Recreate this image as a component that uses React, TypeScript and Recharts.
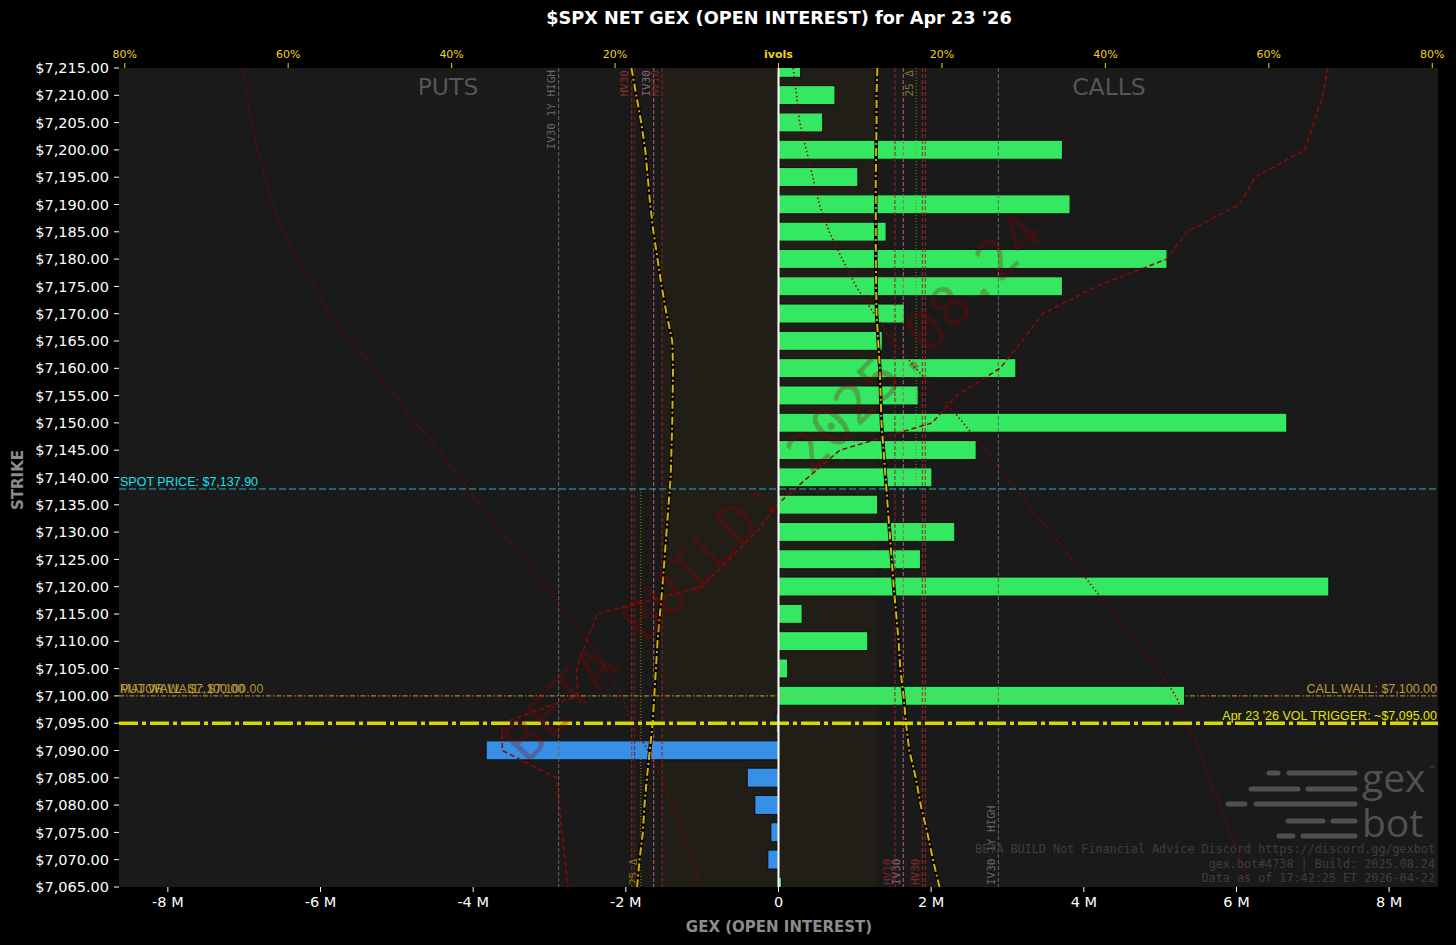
import React from 'react';
import { ComposedChart, Bar, Line, XAxis, YAxis, ReferenceLine, ReferenceArea, Cell } from 'recharts';

// ---------- data ----------
const strikes = [7215, 7210, 7205, 7200, 7195, 7190, 7185, 7180, 7175, 7170, 7165, 7160, 7155, 7150, 7145, 7140, 7135, 7130, 7125, 7120, 7115, 7110, 7105, 7100, 7095, 7090, 7085, 7080, 7075, 7070, 7065];
// net GEX in millions
const netGexM = [0.29, 0.74, 0.58, 3.72, 1.04, 3.82, 1.41, 5.09, 3.72, 1.65, 1.36, 3.11, 1.83, 6.66, 2.59, 2.01, 1.30, 2.31, 1.86, 7.21, 0.31, 1.17, 0.12, 5.32, -0.03, -3.83, -0.41, -0.31, -0.10, -0.14, 0.04];
// implied vols (%), puts plotted as negative values on the ivols axis
const callIvNear = [12.1, 12.0, 12.0, 11.95, 11.9, 11.9, 11.9, 11.9, 11.95, 12.0, 12.2, 12.4, 12.5, 12.6, 12.85, 13.1, 13.35, 13.6, 13.85, 14.1, 14.4, 14.7, 14.9, 15.3, 15.6, 16.0, 16.8, 17.4, 18.2, 18.9, 19.7];
const putIvNear = [-18.0, -17.4, -16.8, -16.3, -16.0, -15.7, -15.3, -14.8, -14.3, -13.7, -13.0, -12.9, -12.95, -13.0, -13.1, -13.2, -13.45, -13.7, -13.95, -14.2, -14.5, -14.8, -15.0, -15.2, -15.4, -15.75, -16.1, -16.4, -16.6, -17.0, -17.3];
const callIvFar = [1.8, 2.2, 2.6, 3.4, 4.2, 5.0, 6.2, 7.8, 9.5, 11.7, 14.0, 16.8, 19.8, 22.6, 25.3, 28.0, 30.6, 33.3, 35.9, 38.4, 41.1, 43.7, 46.4, 48.6, 50.1, 51.5, 52.6, 54.1, 55.3, 56.5, 57.9];
const putIvFar = [-65.5, -65.0, -64.5, -63.8, -62.9, -61.9, -60.6, -58.9, -56.8, -54.9, -52.3, -49.6, -47.0, -44.4, -41.6, -39.0, -36.5, -33.8, -31.2, -28.5, -25.8, -23.3, -21.1, -19.1, -17.9, -16.0, -14.4, -13.0, -11.9, -10.6, -9.4];
const skewIv = [67.2, 66.6, 65.5, 64.4, 58.3, 56.4, 50.0, 47.5, 38.9, 32.3, 29.8, 27.1, 21.8, 18.8, 7.5, 3.6, -0.2, -2.7, -6.0, -9.4, -22.2, -23.5, -24.7, -24.6, -33.8, -33.8, -27.2, -26.8, -26.5, -26.1, -25.8];

const gexTicks = [-8, -6, -4, -2, 0, 2, 4, 6, 8];
const ivTicks = [-80, -60, -40, -20, 0, 20, 40, 60, 80];

const SPOT = 7137.9;
const WALL = 7100;
const VOL_TRIGGER = 7095;
const IV30_1Y_HIGH = 26.9;
const HV30_A = 17.6;
const HV30_B = 17.95;
const IV30 = 15.27;
const HV10 = 14.25;
const DELTA25 = 16.85;
const SHADE_LO = -14.3;
const SHADE_HI = 12.0;

const data = strikes.map((s, i) => ({
  strike: s,
  gex: netGexM[i],
  callNear: callIvNear[i],
  putNear: putIvNear[i],
  callFar: callIvFar[i],
  putFar: putIvFar[i],
  skew: skewIv[i],
}));

const SANS = 'DejaVu Sans, sans-serif';
const MONO = 'DejaVu Sans Mono, monospace';
const LBL = 'Liberation Sans, Arial, sans-serif';

const fmtStrike = (v: number) => '$' + v.toLocaleString('en-US', { minimumFractionDigits: 2, maximumFractionDigits: 2 });
const fmtGex = (v: number) => (v === 0 ? '0' : `${v} M`);

const IvTick = (props: any) => {
  const { x, y, payload } = props;
  const v = payload.value;
  return (
    <text x={x} y={y} textAnchor="middle" fill="#f2d21a" fontSize={11} fontWeight={v === 0 ? 'bold' : 'normal'} fontFamily={SANS}>
      {v === 0 ? 'ivols' : `${Math.abs(v)}%`}
    </text>
  );
};

const vLabel = (text: string, color: string, at: 'top' | 'bottom') => (props: any) => {
  const vb = props.viewBox || {};
  const bx = vb.x - 3.5;
  if (at === 'top') {
    const y = vb.y + 2;
    return (
      <text x={bx} y={y} transform={`rotate(-90 ${bx} ${y})`} textAnchor="end" fill={color} fontSize={11} fontFamily={MONO}>
        {text}
      </text>
    );
  }
  const y = vb.y + vb.height - 2;
  return (
    <text x={bx} y={y} transform={`rotate(-90 ${bx} ${y})`} textAnchor="start" fill={color} fontSize={11} fontFamily={MONO}>
      {text}
    </text>
  );
};

const hLabel = (items: { text: string; color: string; side: 'left' | 'right' }[]) => (props: any) => {
  const vb = props.viewBox || {};
  return (
    <g>
      {items.map((it, i) => (
        <text
          key={i}
          x={it.side === 'left' ? vb.x + 1 : vb.x + vb.width - 1}
          y={vb.y - 3}
          textAnchor={it.side === 'left' ? 'start' : 'end'}
          fill={it.color}
          fontSize={12.5}
          fontFamily={LBL}
        >
          {it.text}
        </text>
      ))}
    </g>
  );
};

const logoRows: [number, number, number][] = [
  [773, 1269, 1278], [773, 1289, 1355],
  [789, 1251, 1298], [789, 1308, 1355],
  [804, 1228, 1245], [804, 1256, 1355],
  [821, 1288, 1323], [821, 1333, 1355],
  [836, 1279, 1293], [836, 1303, 1355],
];

export default function App() {
  return (
    <div style={{ position: 'absolute', left: 0, top: 0, width: 1456, height: 945, background: '#000', overflow: 'hidden' }}>
      <div style={{ position: 'absolute', left: 119, top: 68, width: 1319, height: 819, background: '#1a1a1a' }} />
      <div style={{ position: 'absolute', left: 0, top: 0 }}>
        <ComposedChart
          width={1456}
          height={945}
          data={data}
          layout="vertical"
          margin={{ top: 40, right: 18, bottom: 28, left: 8 }}
        >
          <XAxis
            xAxisId="gex"
            type="number"
            orientation="bottom"
            domain={[-8.64, 8.64]}
            ticks={gexTicks}
            interval={0}
            allowDataOverflow
            tickFormatter={fmtGex}
            height={30}
            axisLine={false}
            tickLine={{ stroke: '#ffffff' }}
            tickSize={5}
            tickMargin={5}
            tick={{ fill: '#ffffff', fontSize: 14.5, fontFamily: SANS }}
          />
          <XAxis
            xAxisId="iv"
            type="number"
            orientation="top"
            domain={[-80.7, 80.7]}
            ticks={ivTicks}
            interval={0}
            allowDataOverflow
            height={28}
            axisLine={false}
            tickLine={{ stroke: '#f2d21a' }}
            tickSize={5}
            tickMargin={5}
            tick={<IvTick />}
          />
          <YAxis
            type="number"
            dataKey="strike"
            domain={[7065, 7215]}
            ticks={strikes}
            interval={0}
            reversed
            allowDataOverflow
            width={111}
            axisLine={false}
            tickLine={{ stroke: '#ffffff' }}
            tickSize={5}
            tickMargin={5}
            tickFormatter={fmtStrike}
            tick={{ fill: '#ffffff', fontSize: 14.5, fontFamily: SANS }}
          />

          <ReferenceArea xAxisId="iv" x1={SHADE_LO} x2={SHADE_HI} fill="rgb(70,55,10)" fillOpacity={0.14} stroke="none" ifOverflow="hidden" />

          <Bar dataKey="gex" xAxisId="gex" barSize={19} isAnimationActive={false} stroke="#0c0c0c" strokeWidth={1}>
            {data.map((d, i) => (
              <Cell key={i} fill={d.gex >= 0 ? '#34e862' : '#378fe6'} />
            ))}
          </Bar>

          {/* vertical IV reference levels */}
          <ReferenceLine xAxisId="iv" x={-IV30_1Y_HIGH} stroke="#6e6468" strokeDasharray="4 2" strokeWidth={1} label={vLabel('IV30 1Y HIGH', '#686868', 'top')} />
          <ReferenceLine xAxisId="iv" x={IV30_1Y_HIGH} stroke="#6e6468" strokeDasharray="4 2" strokeWidth={1} label={vLabel('IV30 1Y HIGH', '#686868', 'bottom')} />
          <ReferenceLine xAxisId="iv" x={-HV30_B} stroke="#a02828" strokeDasharray="4 2" strokeWidth={1} label={vLabel('HV30', '#8a2a2a', 'top')} />
          <ReferenceLine xAxisId="iv" x={-HV30_A} stroke="#6a2020" strokeDasharray="4 2" strokeWidth={1} />
          <ReferenceLine xAxisId="iv" x={HV30_A} stroke="#a02828" strokeDasharray="4 2" strokeWidth={1} label={vLabel('HV30', '#8a2a2a', 'bottom')} />
          <ReferenceLine xAxisId="iv" x={HV30_B} stroke="#a02828" strokeDasharray="4 2" strokeWidth={1} />
          <ReferenceLine xAxisId="iv" x={-IV30} stroke="#b06474" strokeDasharray="4 2" strokeWidth={1} label={vLabel('IV30', '#8a6670', 'top')} />
          <ReferenceLine xAxisId="iv" x={IV30} stroke="#b06474" strokeDasharray="4 2" strokeWidth={1} label={vLabel('IV30', '#8a6670', 'bottom')} />
          <ReferenceLine xAxisId="iv" x={-HV10} stroke="#962222" strokeDasharray="4 2" strokeWidth={1} label={vLabel('HV10', '#6e2626', 'top')} />
          <ReferenceLine xAxisId="iv" x={HV10} stroke="#962222" strokeDasharray="4 2" strokeWidth={1} label={vLabel('HV10', '#6e2626', 'bottom')} />
          <ReferenceLine
            xAxisId="iv"
            segment={[{ x: DELTA25, y: 7215 }, { x: DELTA25, y: SPOT }]}
            stroke="#8a8a10"
            strokeDasharray="1 2"
            strokeWidth={1}
            label={vLabel('25 Δ', '#7a7a26', 'top')}
          />
          <ReferenceLine
            xAxisId="iv"
            segment={[{ x: -DELTA25, y: SPOT }, { x: -DELTA25, y: 7065 }]}
            stroke="#8a8a10"
            strokeDasharray="1 2"
            strokeWidth={1}
            label={vLabel('25 Δ', '#7a7a26', 'bottom')}
          />

          {/* IV curves */}
          <Line xAxisId="iv" dataKey="putFar" type="linear" stroke="#8b0000" strokeWidth={1.5} strokeDasharray="1.5 2.5" dot={false} isAnimationActive={false} />
          <Line xAxisId="iv" dataKey="callFar" type="linear" stroke="#8b0000" strokeWidth={1.5} strokeDasharray="1.5 2.5" dot={false} isAnimationActive={false} />
          <Line xAxisId="iv" dataKey="skew" type="linear" stroke="#8b0a0a" strokeWidth={1.5} strokeDasharray="5 3" dot={false} isAnimationActive={false} />
          <Line xAxisId="iv" dataKey="putNear" type="linear" stroke="#000000" strokeWidth={3.5} dot={false} isAnimationActive={false} />
          <Line xAxisId="iv" dataKey="putNear" type="linear" stroke="#d8b400" strokeWidth={2} strokeDasharray="8 3 2 3" dot={false} isAnimationActive={false} />
          <Line xAxisId="iv" dataKey="callNear" type="linear" stroke="#000000" strokeWidth={3.5} dot={false} isAnimationActive={false} />
          <Line xAxisId="iv" dataKey="callNear" type="linear" stroke="#d8b400" strokeWidth={2} strokeDasharray="8 3 2 3" dot={false} isAnimationActive={false} />

          {/* horizontal levels */}
          <ReferenceLine
            xAxisId="gex"
            y={SPOT}
            stroke="#1fb3c3"
            strokeDasharray="7 3"
            strokeWidth={1}
            label={hLabel([{ text: 'SPOT PRICE: $7,137.90', color: '#12e2ee', side: 'left' }])}
          />
          <ReferenceLine
            xAxisId="gex"
            y={WALL}
            stroke="#d09a34"
            strokeDasharray="5 2 1.5 2"
            strokeWidth={1}
            label={hLabel([
              { text: 'MAJOR WALL: $7,100.00', color: '#a89030', side: 'left' },
              { text: 'PUT WALL: $7,100.00', color: '#c39a3c', side: 'left' },
              { text: 'CALL WALL: $7,100.00', color: '#c39a3c', side: 'right' },
            ])}
          />
          <ReferenceLine
            xAxisId="gex"
            y={VOL_TRIGGER}
            stroke="#d8d800"
            strokeDasharray="19 4 4 4"
            strokeWidth={3.5}
            label={hLabel([{ text: "Apr 23 '26 VOL TRIGGER: ~$7,095.00", color: '#e4e400', side: 'right' }])}
          />
          <ReferenceLine xAxisId="gex" x={0} stroke="#ffffff" strokeWidth={2} />
        </ComposedChart>
      </div>

      <svg width={1456} height={945} style={{ position: 'absolute', left: 0, top: 0, pointerEvents: 'none' }}>
        <text x={779} y={24} textAnchor="middle" fill="#ffffff" fontSize={17.7} fontWeight="bold" fontFamily={SANS}>
          $SPX NET GEX (OPEN INTEREST) for Apr 23 '26
        </text>
        <text x={779} y={932} textAnchor="middle" fill="#8c8c8c" fontSize={15} fontWeight="bold" fontFamily={SANS}>
          GEX (OPEN INTEREST)
        </text>
        <text x={23} y={480} transform="rotate(-90 23 480)" textAnchor="middle" fill="#8c8c8c" fontSize={15} fontWeight="bold" fontFamily={SANS}>
          STRIKE
        </text>
        <text x={448} y={95} textAnchor="middle" fill="#555555" fontSize={23.5} fontFamily={SANS}>PUTS</text>
        <text x={1109} y={95} textAnchor="middle" fill="#555555" fontSize={23.5} fontFamily={SANS}>CALLS</text>

        <text
          x={776}
          y={490}
          transform="rotate(-45.5 776 490)"
          textAnchor="middle"
          dominantBaseline="middle"
          fill="#8b0000"
          fillOpacity={0.28}
          fontSize={56}
          fontFamily={MONO}
        >
          BETA BUILD: 2025.08.24
        </text>

        <g stroke="#505050" strokeWidth={5} strokeLinecap="round">
          {logoRows.map(([y, x1, x2], i) => (
            <line key={i} x1={x1} y1={y} x2={x2} y2={y} />
          ))}
        </g>
        <text x={1362} y={792} fill="#505050" fontSize={39} fontFamily="Open Sans, sans-serif">gex</text>
        <text x={1362} y={837} fill="#505050" fontSize={39} fontFamily="Open Sans, sans-serif">bot</text>
        <text x={1428} y={772} fill="#505050" fontSize={8} fontFamily={SANS}>™</text>

        <g fill="#3e3e3e" fontSize={11.75} fontFamily={MONO} textAnchor="end">
          <text x={1435} y={853}>BETA BUILD Not Financial Advice Discord https://discord.gg/gexbot</text>
          <text x={1435} y={868}>gex.bot#4738 | Build: 2025.08.24</text>
          <text x={1435} y={882}>Data as of 17:42:25 ET 2026-04-22</text>
        </g>
      </svg>
    </div>
  );
}
